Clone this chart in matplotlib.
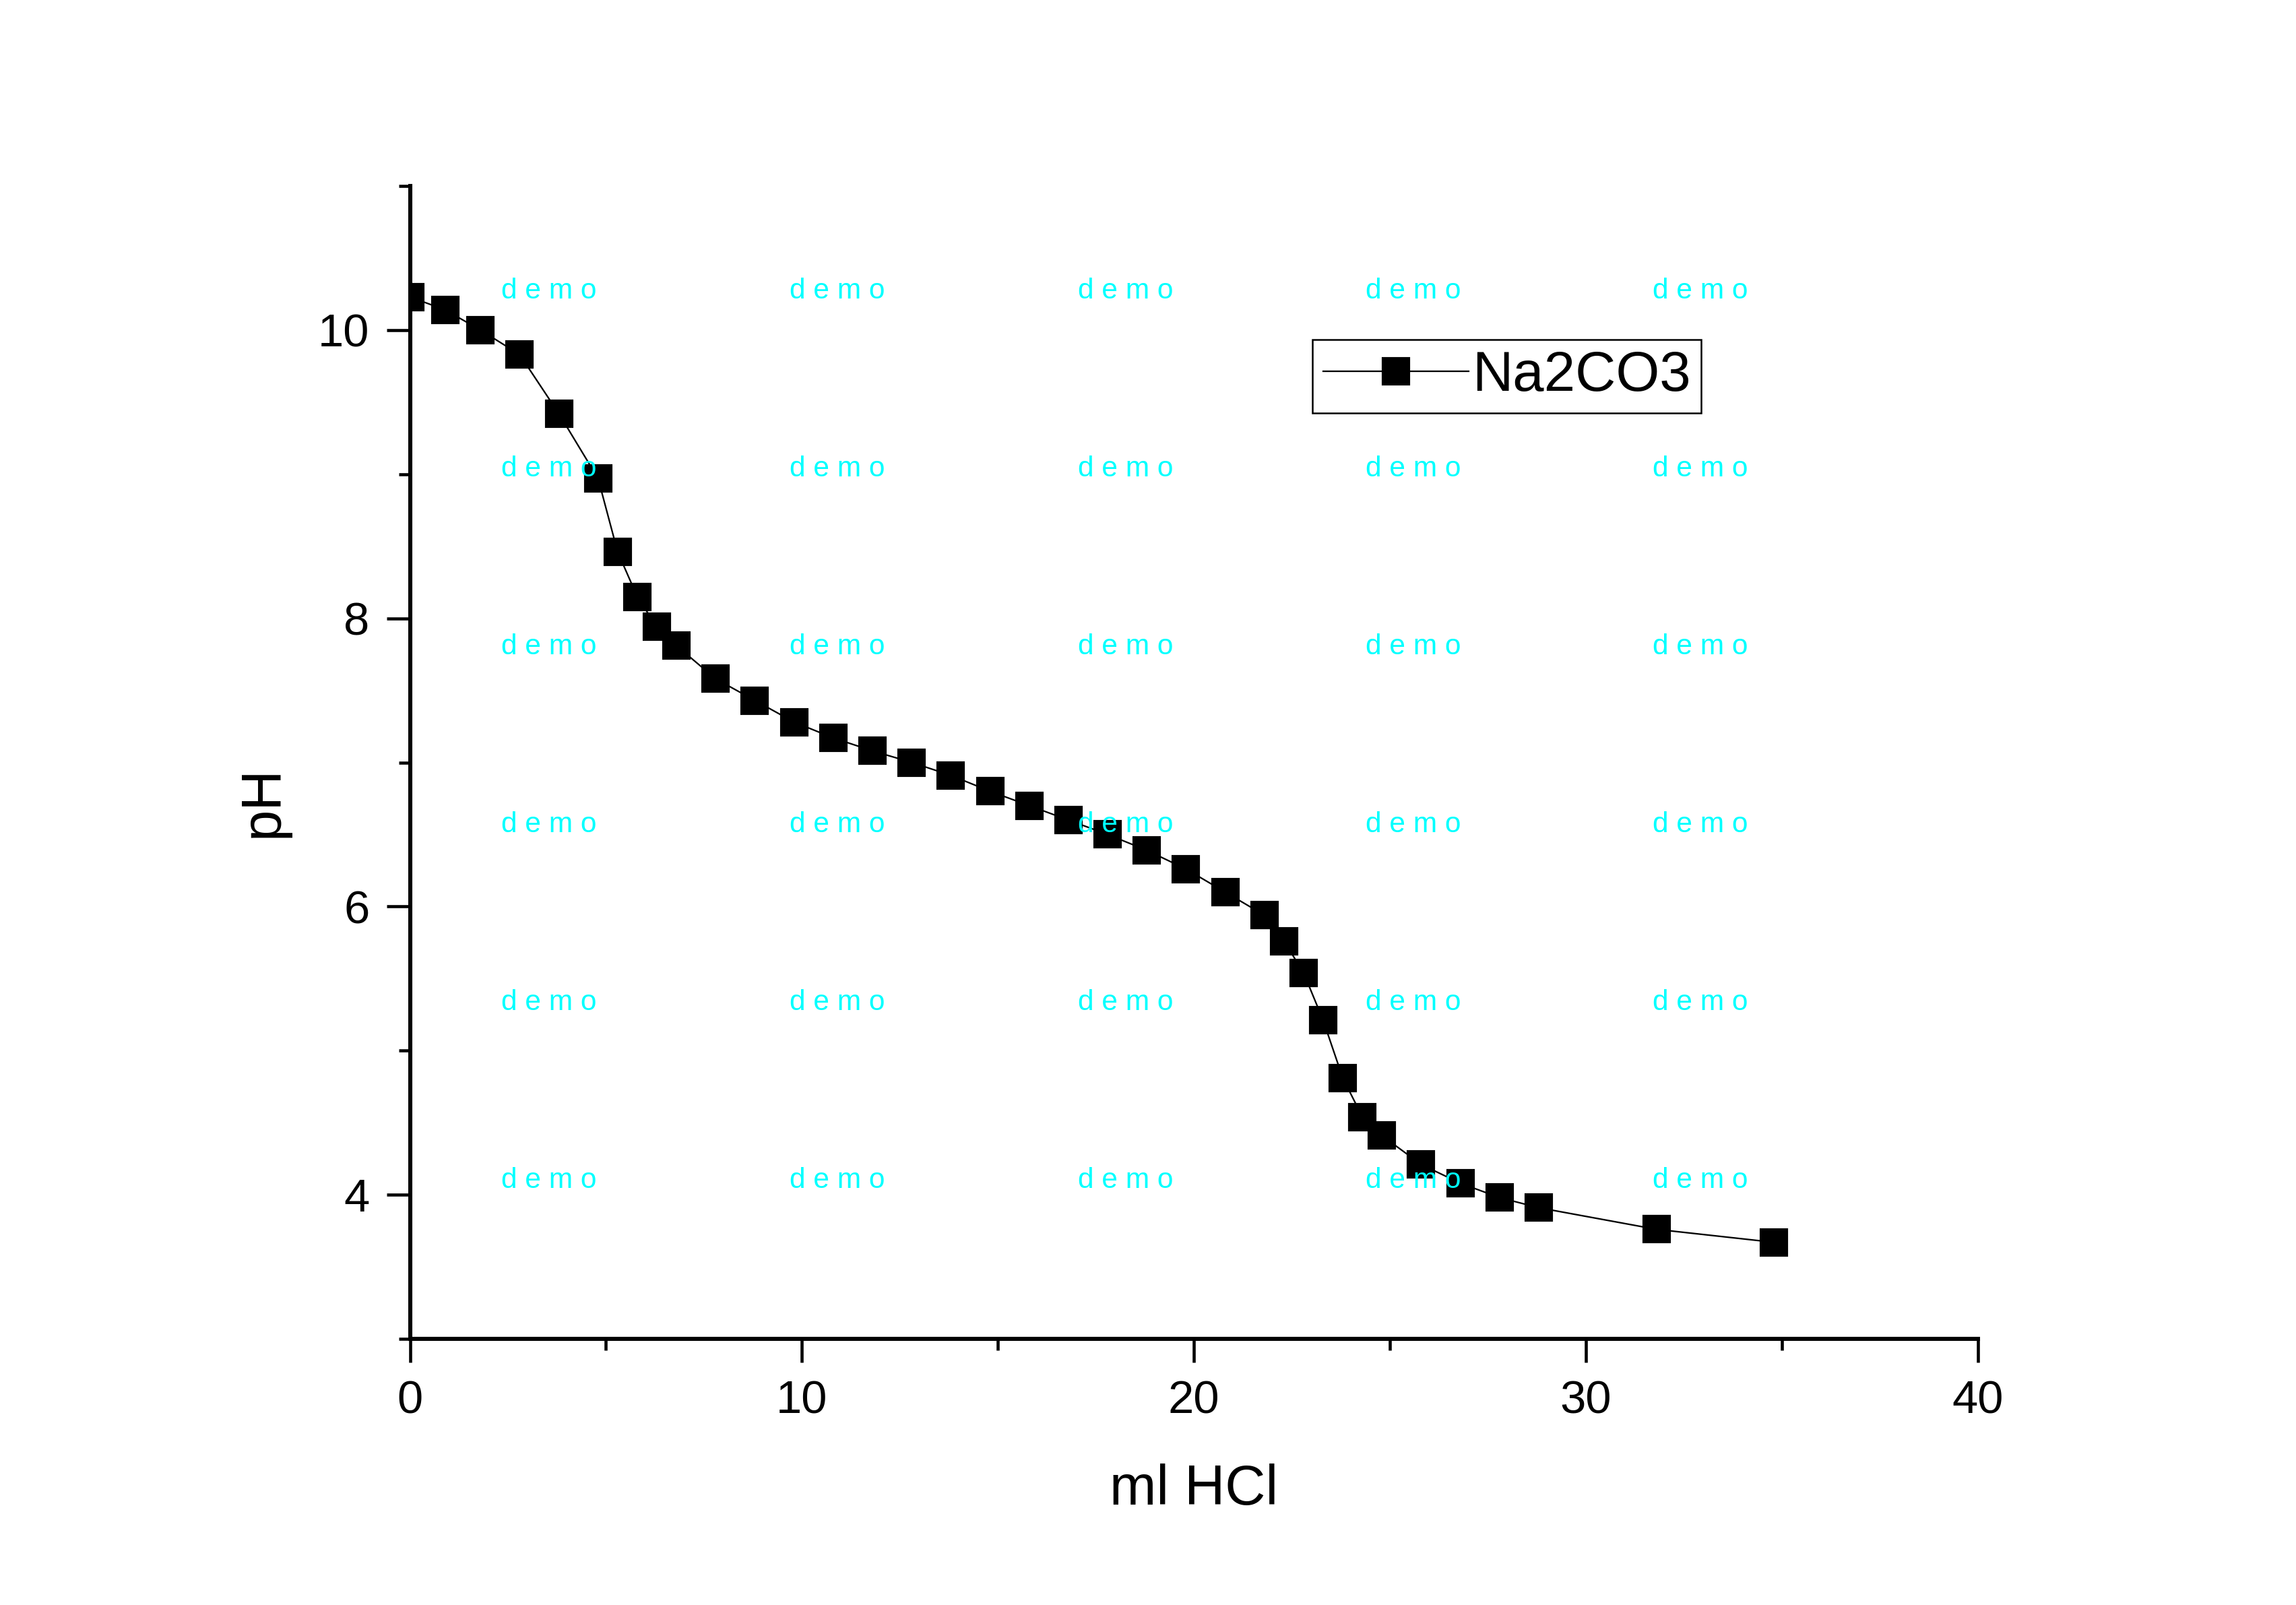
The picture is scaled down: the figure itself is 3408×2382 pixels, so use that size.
import matplotlib
matplotlib.use("Agg")
import matplotlib.pyplot as plt

plt.rcParams['font.family'] = ['Liberation Sans', 'DejaVu Sans']

# titration data
ml_hcl = [0, 0.9, 1.8, 2.8, 3.8, 4.8, 5.3, 5.8, 6.3, 6.8,
          7.8, 8.8, 9.8, 10.8, 11.8, 12.8, 13.8, 14.8, 15.8, 16.8,
          17.8, 18.8, 19.8, 20.8, 21.8, 22.3, 22.8, 23.3, 23.8, 24.3,
          24.8, 25.8, 26.8, 27.8, 28.8, 31.8, 34.8]
ph = [10.23, 10.14, 10.00, 9.83, 9.42, 8.97, 8.46, 8.15, 7.94, 7.81,
      7.58, 7.43, 7.28, 7.17, 7.08, 7.00, 6.91, 6.80, 6.70, 6.60,
      6.50, 6.39, 6.26, 6.10, 5.94, 5.76, 5.54, 5.21, 4.81, 4.54,
      4.41, 4.21, 4.08, 3.98, 3.91, 3.76, 3.67]
series_name = "Na2CO3"
x_ticks = [0, 10, 20, 30, 40]
y_ticks = [4, 6, 8, 10]
watermark = "d e m o"

W, H = 3408, 2382
fig = plt.figure(figsize=(W / 300, H / 300), dpi=300)
ax = fig.add_axes([608.5 / W, 1 - 1987 / H, (2935.6 - 608.5) / W, (1987 - 276) / H])

ax.plot(ml_hcl, ph, color='black', lw=0.55, marker='s', ms=9,
        markerfacecolor='black', markeredgecolor='black', label=series_name)

ax.set_xlim(0, 40)
ax.set_ylim(3, 11)
ax.set_xticks(x_ticks)
ax.set_yticks(y_ticks)
ax.set_xticks([5, 15, 25, 35], minor=True)
ax.set_yticks([3, 5, 7, 9, 11], minor=True)

for side in ['top', 'right']:
    ax.spines[side].set_visible(False)
for side in ['left', 'bottom']:
    ax.spines[side].set_linewidth(1.45)

ax.tick_params(which='major', direction='out', length=8.4, width=1.1,
               labelsize=16.5, pad=6)
ax.tick_params(which='minor', direction='out', length=4.1, width=1.1)

ax.set_xlabel("ml HCl", fontsize=20, va='top')
ax.xaxis.set_label_coords(0.5, -0.108)
ax.set_ylabel("pH", fontsize=20)
ax.yaxis.set_label_coords(-0.077, 0.466)

leg = ax.legend(loc='upper left', bbox_to_anchor=(0.5756, 0.867),
                borderaxespad=0, fontsize=20, handlelength=2.6,
                handletextpad=0.05, borderpad=0.19, fancybox=False,
                framealpha=1, edgecolor='black')
leg.get_frame().set_linewidth(0.6)

# demo watermark grid
cols = [815, 1243, 1671, 2098, 2524]
rows = [432, 696, 960, 1224, 1488, 1752]
for yy in rows:
    for xx in cols:
        fig.text(xx / W, 1 - yy / H, watermark, color='#00FFFF', fontsize=10.2,
                 ha='center', va='center', zorder=10)

fig.savefig("out.png", dpi=300)
